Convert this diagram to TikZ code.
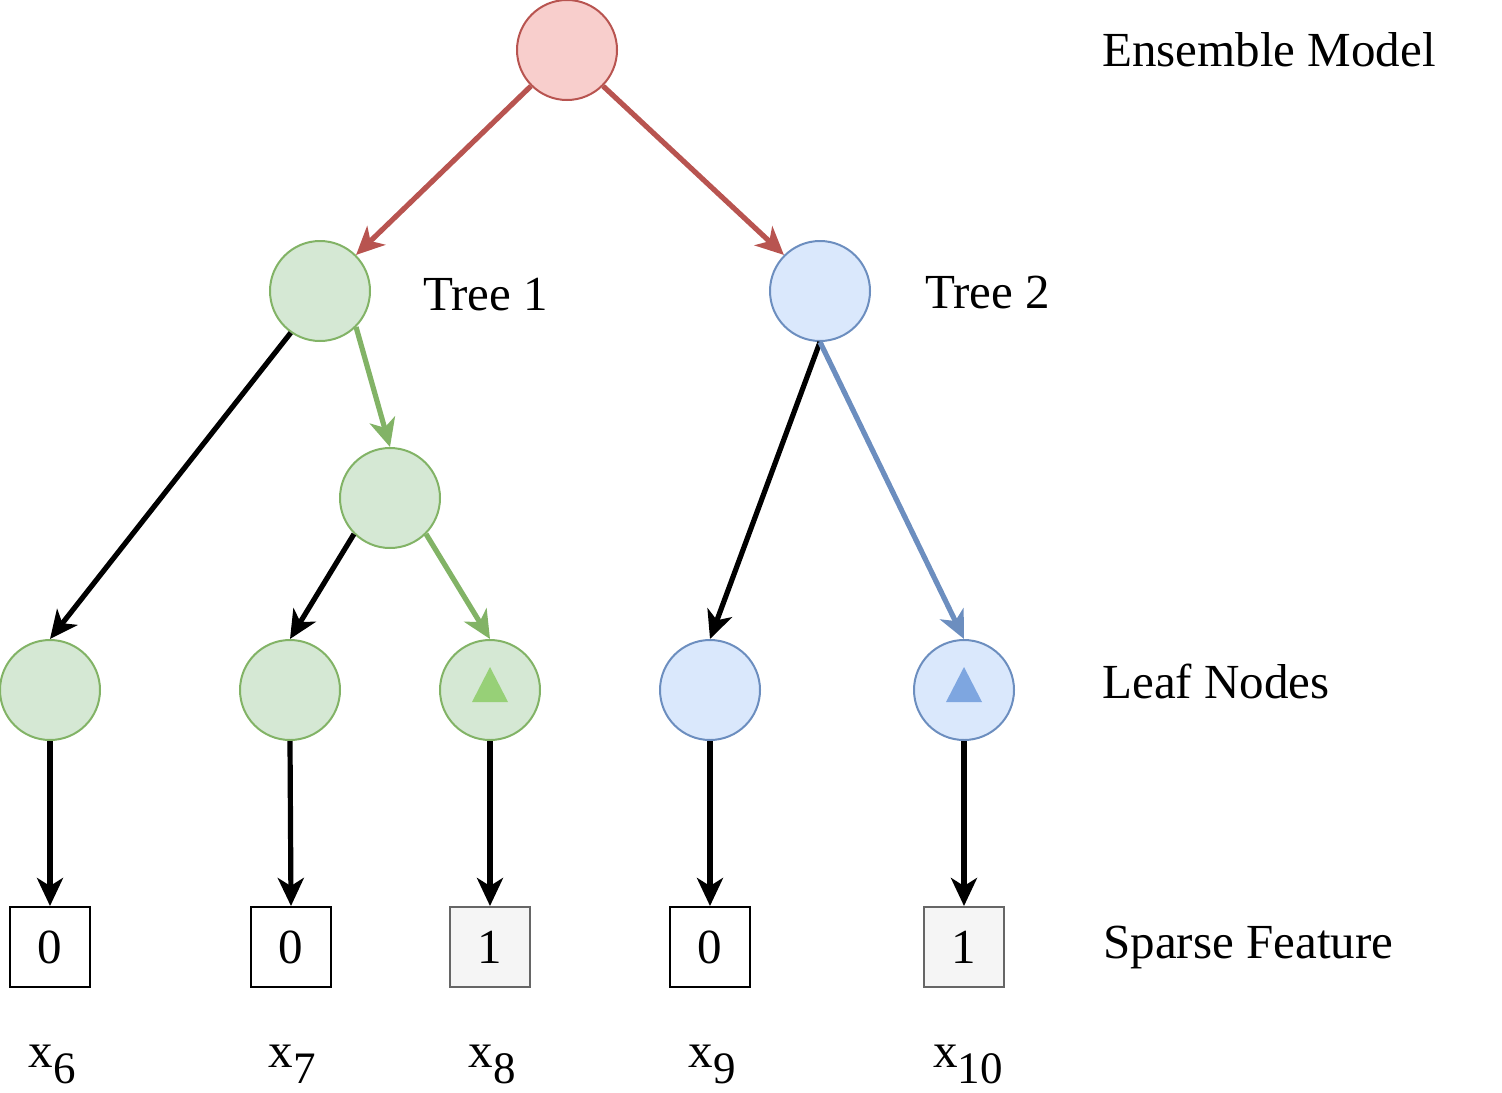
\documentclass[tikz,border=0pt]{standalone}
\usepackage{fontspec}
\setmainfont{Liberation Serif}
\usetikzlibrary{arrows.meta,calc}
\definecolor{enred}{RGB}{248,206,204}
\definecolor{enredline}{RGB}{184,84,80}
\definecolor{trgreen}{RGB}{213,232,212}
\definecolor{trgreenline}{RGB}{130,179,102}
\definecolor{trgreenmark}{RGB}{151,208,119}
\definecolor{trblue}{RGB}{218,232,252}
\definecolor{trblueline}{RGB}{108,142,191}
\definecolor{trbluemark}{RGB}{126,166,224}
\definecolor{hitgray}{RGB}{245,245,245}
\definecolor{hitgrayline}{RGB}{102,102,102}
\newcommand{\xsub}[1]{x\raisebox{-8pt}{\fontsize{22.5}{22.5}\selectfont #1}}

\begin{document}
\begin{tikzpicture}[x=0.5pt,y=-0.5pt,font=\fontsize{24.5}{28}\selectfont,
    tnode/.style={circle,minimum size=50pt,inner sep=0pt,line width=1pt},
    fbox/.style={draw,minimum size=40pt,inner sep=0pt,line width=1pt},
    arr/.style={line width=2.6pt,-{Stealth[length=14pt,width=13pt,inset=4pt]}}]
    \useasboundingbox (0,0) rectangle (1502,1092);
    % ensemble and the two trees
    \node[tnode,draw=enredline,fill=enred] (root) at (567,50) {};
    \node[tnode,draw=trgreenline,fill=trgreen] (t1) at (320,291) {};
    \node[tnode,draw=trblueline,fill=trblue] (t2) at (820,291) {};
    \node[tnode,draw=trgreenline,fill=trgreen] (mid) at (390,498) {};
    % leaves
    \node[tnode,draw=trgreenline,fill=trgreen] (lf6) at (50,690) {};
    \node[tnode,draw=trgreenline,fill=trgreen] (lf7) at (290,690) {};
    \node[tnode,draw=trgreenline,fill=trgreen] (lf8) at (490,690) {};
    \node[tnode,draw=trblueline,fill=trblue] (lf9) at (710,690) {};
    \node[tnode,draw=trblueline,fill=trblue] (lf10) at (964,690) {};
    \fill[trgreenmark] ($(lf8)+(-18,12)$) -- ($(lf8)+(18,12)$) -- ($(lf8)+(0,-23)$) -- cycle;
    \fill[trbluemark] ($(lf10)+(-18,12)$) -- ($(lf10)+(18,12)$) -- ($(lf10)+(0,-23)$) -- cycle;
    % sparse feature boxes
    \node[fbox] (b6) at (50,947) {0};
    \node[fbox] (b7) at (291,947) {0};
    \node[fbox,draw=hitgrayline,fill=hitgray] (b8) at (490,947) {1};
    \node[fbox] (b9) at (710,947) {0};
    \node[fbox,draw=hitgrayline,fill=hitgray] (b10) at (964,947) {1};
    \node[anchor=base] (s6) at (52,1067) {\xsub{6}};
    \node[anchor=base] (s7) at (292,1067) {\xsub{7}};
    \node[anchor=base] (s8) at (492,1067) {\xsub{8}};
    \node[anchor=base] (s9) at (712,1067) {\xsub{9}};
    \node[anchor=base] (s10) at (968,1067) {\xsub{10}};
    % labels
    \node[anchor=base west,inner sep=0pt] (lbens) at (1102,66) {Ensemble Model};
    \node[anchor=base west,inner sep=0pt] (lbt1) at (423,310) {Tree 1};
    \node[anchor=base west,inner sep=0pt] (lbt2) at (925,308) {Tree 2};
    \node[anchor=base west,inner sep=0pt] (lbleaf) at (1102,698) {Leaf Nodes};
    \node[anchor=base west,inner sep=0pt] (lbsp) at (1103,958) {Sparse Feature};
    % connectors
    \draw[arr,enredline] (root.-135) -- (t1.45);
    \draw[arr,enredline] (root.-45) -- (t2.135);
    \draw[arr] (t1.-125) -- (lf6.north);
    \draw[arr,trgreenline] (t1.-45) -- (mid.north);
    \draw[arr] (mid.-135) -- (lf7.north);
    \draw[arr,trgreenline] (mid.-45) -- (lf8.north);
    \draw[arr] (t2.south) -- (lf9.north);
    \draw[arr,trblueline] (t2.south) -- (lf10.north);
    \foreach \k in {6,7,8,9,10}
      \draw[arr] (lf\k.south) -- (b\k.north);
  \end{tikzpicture}
\end{document}
